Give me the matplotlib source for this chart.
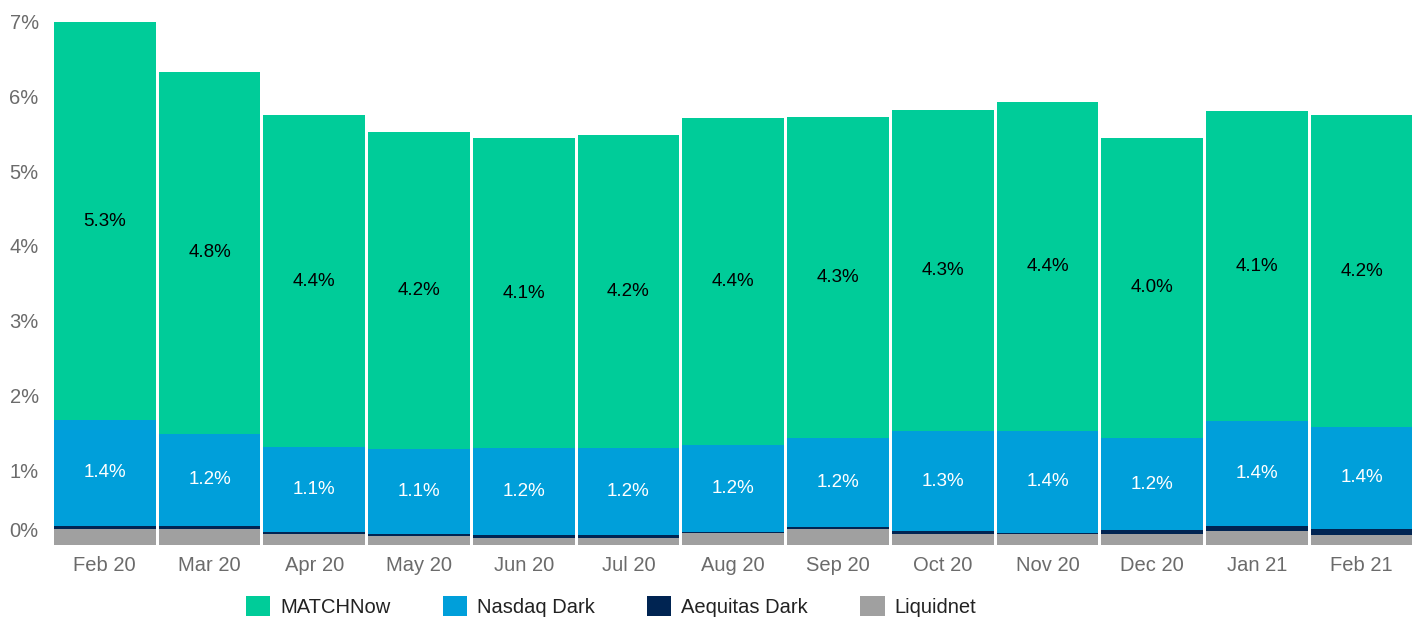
import numpy as np
import matplotlib
matplotlib.use('Agg')
import matplotlib.pyplot as plt
from matplotlib.transforms import ScaledTranslation

plt.rcParams['font.family'] = ['Liberation Sans', 'DejaVu Sans']

# data (percent of volume)
months = ['Feb 20', 'Mar 20', 'Apr 20', 'May 20', 'Jun 20', 'Jul 20', 'Aug 20',
          'Sep 20', 'Oct 20', 'Nov 20', 'Dec 20', 'Jan 21', 'Feb 21']
liquidnet = [0.22, 0.22, 0.15, 0.12, 0.10, 0.10, 0.16, 0.22, 0.15, 0.15, 0.15, 0.19, 0.14]
aequitas = [0.04, 0.04, 0.02, 0.03, 0.03, 0.03, 0.015, 0.02, 0.04, 0.015, 0.05, 0.07, 0.08]
nasdaq = [1.41, 1.23, 1.14, 1.13, 1.17, 1.17, 1.16, 1.19, 1.33, 1.36, 1.23, 1.40, 1.36]
matchnow = [5.32, 4.84, 4.44, 4.24, 4.14, 4.18, 4.38, 4.29, 4.30, 4.40, 4.02, 4.14, 4.17]

c_match = '#00CC99'
c_nasdaq = '#009FDA'
c_aeq = '#002452'
c_liq = '#A0A0A0'

fig = plt.figure(figsize=(14.21, 6.2), dpi=100)
ax = fig.add_axes([0.038, 0.121, 0.956, 0.844])

x = np.arange(len(months))
w = 0.97
liq = np.array(liquidnet)
aeq = np.array(aequitas)
nas = np.array(nasdaq)
mat = np.array(matchnow)

ax.bar(x, liq, w, color=c_liq, label='Liquidnet')
ax.bar(x, aeq, w, bottom=liq, color=c_aeq, label='Aequitas Dark')
ax.bar(x, nas, w, bottom=liq + aeq, color=c_nasdaq, label='Nasdaq Dark')
ax.bar(x, mat, w, bottom=liq + aeq + nas, color=c_match, label='MATCHNow')

for i in range(len(months)):
    ax.text(x[i], liq[i] + aeq[i] + nas[i] / 2, f'{nas[i]:.1f}%', ha='center', va='center',
            color='white', fontsize=13.5)
    ax.text(x[i], liq[i] + aeq[i] + nas[i] + mat[i] / 2, f'{mat[i]:.1f}%', ha='center',
            va='center', color='black', fontsize=13.5)

ax.set_xlim(-0.5 + (1 - w) / 2, len(months) - 0.5 - (1 - w) / 2)
ax.set_ylim(0, 7)
ax.set_yticks(range(8))
ax.set_yticklabels([f'{v}%' for v in range(8)])
ax.set_xticks(x)
ax.set_xticklabels(months)
ax.tick_params(axis='both', length=0, labelsize=14.5, labelcolor='#6b6b6b')
ax.tick_params(axis='y', pad=11)
ax.tick_params(axis='x', pad=8)
for s in ax.spines.values():
    s.set_visible(False)

# lift the 0% label like the original
lbl0 = ax.get_yticklabels()[0]
lbl0.set_transform(lbl0.get_transform() + ScaledTranslation(0, 0.15, fig.dpi_scale_trans))

handles, labels = ax.get_legend_handles_labels()
order = [3, 2, 1, 0]
fig.legend([handles[i] for i in order], [labels[i] for i in order], loc='center',
           bbox_to_anchor=(0.43, 0.022), ncol=4, frameon=False, fontsize=14.5,
           handlelength=1.2, handleheight=1.2, handletextpad=0.5, columnspacing=2.6,
           labelcolor='#222222')

plt.savefig('out.png', dpi=100)
plt.close()
